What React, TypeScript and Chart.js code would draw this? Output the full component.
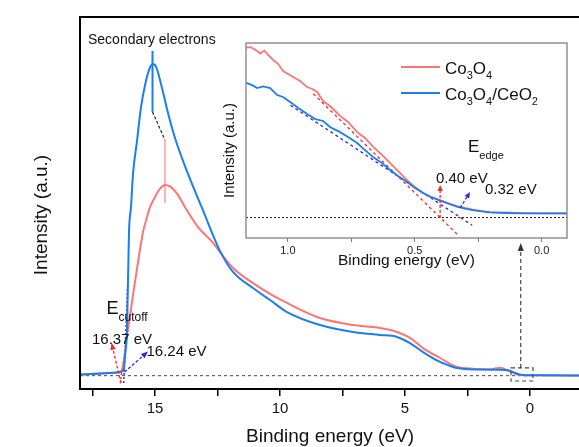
import React, { useEffect, useRef } from 'react';
import { Chart, registerables } from 'chart.js';

Chart.register(...registerables);

type Pt = [number, number];

const FONT = '"Liberation Sans", Arial, sans-serif';
const RED = '#ff7575';
const BLUE = '#1a7ef0';
const DARK_RED = '#f02a2a';
const DARK_BLUE = '#2b2bd6';

// UPS survey spectra: binding energy (eV), intensity (a.u.)
const co3o4Survey: Pt[] = [
  [18.0, 0.45], [17.2, 0.85], [16.4, 1.3], [16.36, 1.45], [16.24, 6.3], [16.12, 16.4],
  [16.0, 24.4], [15.88, 32.5], [15.68, 45.8], [15.48, 57.9], [15.32, 64.0], [15.2, 67.9],
  [15.0, 72.0], [14.8, 75.4], [14.6, 76.9], [14.4, 76.3], [14.08, 72.8], [13.8, 67.9],
  [13.28, 59.9], [12.72, 54.0], [12.4, 49.8], [11.88, 43.4], [11.08, 37.3], [10.4, 33.0],
  [9.72, 29.3], [8.4, 23.2], [7.08, 20.4], [6.28, 19.6], [6.0, 19.2], [5.32, 17.6],
  [4.8, 15.2], [4.28, 11.1], [3.6, 7.1], [2.92, 3.5], [2.4, 2.9], [1.6, 2.5], [1.2, 3.2],
  [0.8, 1.65], [0.4, 0.24], [-0.4, 0.1], [-2.0, 0.05],
];
const co3o4CeO2Survey: Pt[] = [
  [18.0, 0.45], [17.2, 0.85], [16.4, 1.5], [16.3, 1.8], [16.24, 3.0], [16.2, 8.0],
  [16.12, 18.4], [16.04, 58.0], [15.96, 68.0], [15.88, 81.3], [15.72, 94.6], [15.56, 108.3],
  [15.38, 118.0], [15.24, 123.2], [15.1, 125.6], [14.96, 124.6], [14.72, 116.0], [14.48, 105.9],
  [14.2, 95.8], [13.68, 81.3], [13.12, 67.6], [12.6, 54.7], [12.4, 50.2], [11.88, 41.8],
  [11.08, 35.3], [10.4, 30.5], [9.72, 25.6], [8.4, 20.4], [7.08, 17.6], [6.0, 16.4],
  [5.32, 15.6], [4.8, 13.1], [4.28, 9.5], [3.6, 5.5], [3.08, 3.5], [2.92, 3.06], [2.28, 2.5],
  [1.32, 2.4], [0.8, 2.0], [0.6, 1.05], [0.28, 0.24], [-0.4, 0.1], [-2.0, 0.05],
];
const surveyBaseline: Pt[] = [[18.0, 0], [-2.0, 0]];

// Secondary-electron maxima and the shift between them
const co3o4CeO2PeakMarker: Pt[] = [[15.1, 130.9], [15.1, 106.3]];
const peakShiftLink: Pt[] = [[15.1, 106.3], [14.6, 95.0]];
const co3o4PeakMarker: Pt[] = [[14.6, 95.0], [14.6, 69.6]];

// Linear extrapolations of the cut-off edges (16.37 eV and 16.24 eV)
const co3o4CutoffTangent: Pt[] = [[16.39, -3.0], [15.95, 27.0]];
const co3o4CeO2CutoffTangent: Pt[] = [[16.25, -3.0], [16.08, 40.0]];
const co3o4CutoffArrow: Pt[] = [[16.36, -3.0], [16.74, 13.2]];
const co3o4CeO2CutoffArrow: Pt[] = [[16.22, 1.45], [15.28, 9.7]];

// Region near the Fermi level that is enlarged in the inset
const zoomBox: Pt[] = [[0.76, 3.1], [-0.12, -2.2]];
const zoomArrow: Pt[] = [[0.37, 3.1], [0.37, 53.5]];

const surveyTicks = [0, 2.5, 5, 7.5, 10, 12.5, 15, 17.5];
const surveyTickLabels = ['0', '', '5', '', '10', '', '15', ''];

// Valence-band edge region (inset)
const co3o4Edge: Pt[] = [
  [1.164, 87.1], [1.148, 87.4], [1.137, 86.7], [1.121, 85.4], [1.109, 84.1], [1.093, 85.6],
  [1.081, 83.8], [1.058, 80.8], [1.038, 78.7], [1.019, 75.1], [0.999, 73.6], [0.979, 72.1],
  [0.952, 70.0], [0.924, 66.9], [0.904, 65.9], [0.885, 64.4], [0.861, 59.7], [0.834, 57.2],
  [0.794, 52.1], [0.763, 49.0], [0.727, 43.8], [0.696, 40.8], [0.664, 36.2], [0.629, 32.1],
  [0.597, 27.9], [0.566, 23.8], [0.53, 19.2], [0.499, 15.6], [0.467, 12.6], [0.436, 10.5],
  [0.4, 9.0], [0.369, 7.4], [0.334, 5.9], [0.302, 4.9], [0.271, 4.1], [0.235, 3.3],
  [0.204, 2.8], [0.144, 2.6], [0.074, 2.3], [-0.013, 2.1], [-0.1, 2.1],
];
const co3o4CeO2Edge: Pt[] = [
  [1.164, 69.1], [1.141, 67.9], [1.121, 66.4], [1.097, 67.2], [1.07, 66.4], [1.042, 62.8],
  [1.019, 61.8], [0.991, 59.2], [0.959, 56.2], [0.924, 53.1], [0.892, 50.5], [0.861, 49.5],
  [0.834, 46.4], [0.794, 43.8], [0.763, 41.3], [0.727, 38.2], [0.696, 34.6], [0.664, 31.0],
  [0.629, 27.9], [0.597, 24.4], [0.566, 21.3], [0.53, 18.2], [0.499, 15.1], [0.467, 12.6],
  [0.436, 10.5], [0.4, 8.7], [0.369, 7.2], [0.334, 5.6], [0.302, 4.6], [0.271, 3.8],
  [0.235, 3.1], [0.204, 2.6], [0.144, 2.3], [0.074, 2.1], [-0.013, 2.1], [-0.1, 2.1],
];
const edgeBaseline: Pt[] = [[1.165, 0], [-0.1, 0]];
// Edge extrapolations: 0.40 eV (Co3O4) and 0.32 eV (Co3O4/CeO2)
const co3o4EdgeTangent: Pt[] = [[0.9, 63.5], [0.33, -8.9]];
const co3o4CeO2EdgeTangent: Pt[] = [[0.99, 57.6], [0.274, -3.96]];
const co3o4EdgeArrow: Pt[] = [[0.4, -0.3], [0.4, 16.7]];
const co3o4CeO2EdgeArrow: Pt[] = [[0.321, 4.9], [0.282, 13.1]];

const edgeTicks = [0, 0.25, 0.5, 0.75, 1.0];
const edgeTickLabels = ['0.0', '', '0.5', '', '1.0'];

const xy = (pts: Pt[]) => pts.map(([x, y]) => ({ x, y }));

function arrow(
  ctx: CanvasRenderingContext2D,
  x1: number, y1: number, x2: number, y2: number,
  color: string, dash: number[], width: number, head = 7, half = 2.8,
) {
  const a = Math.atan2(y2 - y1, x2 - x1);
  const bx = x2 - head * Math.cos(a);
  const by = y2 - head * Math.sin(a);
  ctx.save();
  ctx.strokeStyle = color;
  ctx.lineWidth = width;
  ctx.setLineDash(dash);
  ctx.beginPath();
  ctx.moveTo(x1, y1);
  ctx.lineTo(bx, by);
  ctx.stroke();
  ctx.setLineDash([]);
  ctx.fillStyle = color;
  ctx.beginPath();
  ctx.moveTo(x2, y2);
  ctx.lineTo(bx + half * Math.sin(a), by - half * Math.cos(a));
  ctx.lineTo(bx - half * Math.sin(a), by + half * Math.cos(a));
  ctx.closePath();
  ctx.fill();
  ctx.restore();
}

// Draws text made of normal and subscript runs, starting at (x, baseline y)
function richText(
  ctx: CanvasRenderingContext2D, x: number, y: number,
  parts: [string, boolean][], size: number, subSize: number, drop: number,
) {
  ctx.save();
  ctx.fillStyle = '#111';
  ctx.textBaseline = 'alphabetic';
  ctx.textAlign = 'left';
  let cx = x;
  for (const [t, sub] of parts) {
    ctx.font = `${sub ? subSize : size}px ${FONT}`;
    ctx.fillText(t, cx, sub ? y + drop : y);
    cx += ctx.measureText(t).width;
  }
  ctx.restore();
}

function plainText(ctx: CanvasRenderingContext2D, t: string, x: number, y: number, size: number) {
  ctx.save();
  ctx.fillStyle = '#111';
  ctx.font = `${size}px ${FONT}`;
  ctx.textBaseline = 'alphabetic';
  ctx.textAlign = 'left';
  ctx.fillText(t, x, y);
  ctx.restore();
}

function verticalTitle(ctx: CanvasRenderingContext2D, t: string, x: number, y: number, size: number) {
  ctx.save();
  ctx.fillStyle = '#111';
  ctx.font = `${size}px ${FONT}`;
  ctx.textAlign = 'center';
  ctx.textBaseline = 'alphabetic';
  ctx.translate(x, y);
  ctx.rotate(-Math.PI / 2);
  ctx.fillText(t, 0, 0);
  ctx.restore();
}

const segment = (data: Pt[], color: string, width: number, dash: number[] = [], order = 3) => ({
  data: xy(data),
  borderColor: color,
  borderWidth: width,
  borderDash: dash,
  pointRadius: 0,
  tension: 0,
  order,
});

const surveyDecor = {
  id: 'surveyDecor',
  afterDatasetsDraw(chart: any) {
    const { ctx, chartArea: a, scales } = chart;
    const px = (v: number) => scales.x.getPixelForValue(v);
    const py = (v: number) => scales.y.getPixelForValue(v);
    ctx.save();
    ctx.strokeStyle = '#000';
    ctx.lineWidth = 2;
    ctx.strokeRect(a.left, a.top, a.right - a.left, a.bottom - a.top);
    ctx.restore();

    const ar = (p: Pt[], c: string, dash: number[], w: number, h?: number, hw?: number) =>
      arrow(ctx, px(p[0][0]), py(p[0][1]), px(p[1][0]), py(p[1][1]), c, dash, w, h, hw);
    ar(co3o4CutoffArrow, DARK_RED, [3, 2], 1.3);
    ar(co3o4CeO2CutoffArrow, DARK_BLUE, [3, 2], 1.3);

    // enlarged region box and pointer to the inset
    ctx.save();
    ctx.strokeStyle = '#444';
    ctx.lineWidth = 1.1;
    ctx.setLineDash([4, 3]);
    const bx1 = px(zoomBox[0][0]);
    const by1 = py(zoomBox[0][1]);
    const bx2 = px(zoomBox[1][0]);
    const by2 = py(zoomBox[1][1]);
    ctx.strokeRect(bx1, by1, bx2 - bx1, by2 - by1);
    ctx.restore();
    ar(zoomArrow, '#333', [4, 3], 1.1, 8, 3);

    plainText(ctx, 'Secondary electrons', 88, 43.5, 14);
    richText(ctx, 106.5, 314, [['E', false], ['cutoff', true]], 18, 12, 6.5);
    plainText(ctx, '16.37 eV', 92, 344, 15);
    plainText(ctx, '16.24 eV', 146.5, 356, 15);
    verticalTitle(ctx, 'Intensity (a.u.)', 47, 215, 19);
  },
};

const edgeDecor = {
  id: 'edgeDecor',
  afterDatasetsDraw(chart: any) {
    const { ctx, chartArea: a, scales } = chart;
    const px = (v: number) => scales.x.getPixelForValue(v);
    const py = (v: number) => scales.y.getPixelForValue(v);
    ctx.save();
    ctx.strokeStyle = '#808080';
    ctx.lineWidth = 1.3;
    ctx.strokeRect(a.left, a.top, a.right - a.left, a.bottom - a.top);
    ctx.restore();

    const ar = (p: Pt[], c: string) =>
      arrow(ctx, px(p[0][0]), py(p[0][1]), px(p[1][0]), py(p[1][1]), c, [3, 2], 1.3, 6, 2.6);
    ar(co3o4EdgeArrow, DARK_RED);
    ar(co3o4CeO2EdgeArrow, DARK_BLUE);

    // offsets of this canvas inside the page
    const ox = 190;
    const oy = 30;
    richText(ctx, 468 - ox, 152 - oy, [['E', false], ['edge', true]], 17, 11, 6.5);
    plainText(ctx, '0.40 eV', 436 - ox, 183 - oy, 15);
    plainText(ctx, '0.32 eV', 485 - ox, 193.5 - oy, 15);

    // legend
    const legend: [string, [string, boolean][], number][] = [
      [RED, [['Co', false], ['3', true], ['O', false], ['4', true]], 74],
      [BLUE, [['Co', false], ['3', true], ['O', false], ['4', true], ['/CeO', false], ['2', true]], 100],
    ];
    for (const [c, parts, base] of legend) {
      ctx.save();
      ctx.strokeStyle = c;
      ctx.lineWidth = 2;
      ctx.beginPath();
      ctx.moveTo(401 - ox, base - 7 - oy);
      ctx.lineTo(440 - ox, base - 7 - oy);
      ctx.stroke();
      ctx.restore();
      richText(ctx, 445 - ox, base - oy, parts, 17, 11, 5);
    }
    verticalTitle(ctx, 'Intensity (a.u.)', 234 - ox, 150.5 - oy, 15);
  },
};

export default function App() {
  const mainRef = useRef<HTMLCanvasElement>(null);
  const insetRef = useRef<HTMLCanvasElement>(null);

  useEffect(() => {
    document.body.style.margin = '0';
    const main = new Chart(mainRef.current!, {
      type: 'line',
      data: {
        datasets: [
          { ...segment(co3o4CeO2Survey, BLUE, 2, [], 0), label: 'Co3O4/CeO2', cubicInterpolationMode: 'monotone' },
          { ...segment(co3o4Survey, RED, 2, [], 1), label: 'Co3O4', cubicInterpolationMode: 'monotone' },
          segment(surveyBaseline, '#666', 1.2, [3, 3], 6),
          segment(co3o4CeO2PeakMarker, BLUE, 2),
          segment(peakShiftLink, '#222', 1.2, [3, 2]),
          segment(co3o4PeakMarker, '#ff9a9a', 1.5),
          segment(co3o4CutoffTangent, DARK_RED, 1.4, [2, 2], 2),
          segment(co3o4CeO2CutoffTangent, DARK_BLUE, 1.4, [2, 2], 2),
        ] as any,
      },
      options: {
        animation: false,
        responsive: false,
        devicePixelRatio: 1,
        layout: { padding: { left: 80, top: 17, right: 20, bottom: 0 } },
        plugins: { legend: { display: false }, tooltip: { enabled: false } },
        scales: {
          x: {
            type: 'linear',
            reverse: true,
            min: -2,
            max: 18,
            afterBuildTicks: (axis: any) => {
              axis.ticks = surveyTicks.map((value) => ({ value }));
            },
            afterFit: (axis: any) => {
              axis.height = 58;
            },
            grid: { drawOnChartArea: false, drawTicks: true, tickLength: 7, color: '#000', lineWidth: 1.5 },
            border: { display: false },
            ticks: {
              autoSkip: false,
              maxRotation: 0,
              padding: 4,
              color: '#111',
              font: { family: FONT, size: 15 },
              callback: (v: any) => surveyTickLabels[surveyTicks.indexOf(Number(v))] ?? '',
            },
            title: {
              display: true,
              text: 'Binding energy (eV)',
              color: '#111',
              font: { family: FONT, size: 19, lineHeight: 1 },
              padding: { top: 0, bottom: 0.5 },
            },
          },
          y: { display: false, min: -5.4, max: 144.6 },
        },
      } as any,
      plugins: [surveyDecor],
    });

    const inset = new Chart(insetRef.current!, {
      type: 'line',
      data: {
        datasets: [
          { ...segment(co3o4CeO2Edge, BLUE, 1.8, [], 0), label: 'Co3O4/CeO2' },
          { ...segment(co3o4Edge, RED, 1.8, [], 1), label: 'Co3O4' },
          segment(edgeBaseline, '#222', 1, [2, 2], 6),
          segment(co3o4EdgeTangent, DARK_RED, 1.3, [3, 3], 2),
          segment(co3o4CeO2EdgeTangent, DARK_BLUE, 1.3, [3, 3], 2),
        ] as any,
      },
      options: {
        animation: false,
        responsive: false,
        devicePixelRatio: 1,
        layout: { padding: { left: 56, top: 13, right: 12, bottom: 0 } },
        plugins: { legend: { display: false }, tooltip: { enabled: false } },
        scales: {
          x: {
            type: 'linear',
            reverse: true,
            min: -0.1,
            max: 1.165,
            afterBuildTicks: (axis: any) => {
              axis.ticks = edgeTicks.map((value) => ({ value }));
            },
            afterFit: (axis: any) => {
              axis.height = 42;
            },
            grid: { drawOnChartArea: false, drawTicks: true, tickLength: 4, color: '#808080', lineWidth: 1 },
            border: { display: false },
            ticks: {
              autoSkip: false,
              maxRotation: 0,
              padding: 2,
              color: '#222',
              font: { family: FONT, size: 11 },
              callback: (v: any) => edgeTickLabels[edgeTicks.indexOf(Number(v))] ?? '',
            },
            title: {
              display: true,
              text: 'Binding energy (eV)',
              color: '#111',
              font: { family: FONT, size: 15.5, lineHeight: 1 },
              padding: { top: 0, bottom: 11.2 },
            },
          },
          y: { display: false, min: -10.5, max: 89.5 },
        },
      } as any,
      plugins: [edgeDecor],
    });

    return () => {
      main.destroy();
      inset.destroy();
    };
  }, []);

  return (
    <div style={{ position: 'relative', width: 579, height: 447, overflow: 'hidden', background: '#fff' }}>
      <style>{'body{margin:0}'}</style>
      <canvas ref={mainRef} width={600} height={447} style={{ position: 'absolute', left: 0, top: 0 }} />
      <canvas ref={insetRef} width={389} height={250} style={{ position: 'absolute', left: 190, top: 30 }} />
    </div>
  );
}
